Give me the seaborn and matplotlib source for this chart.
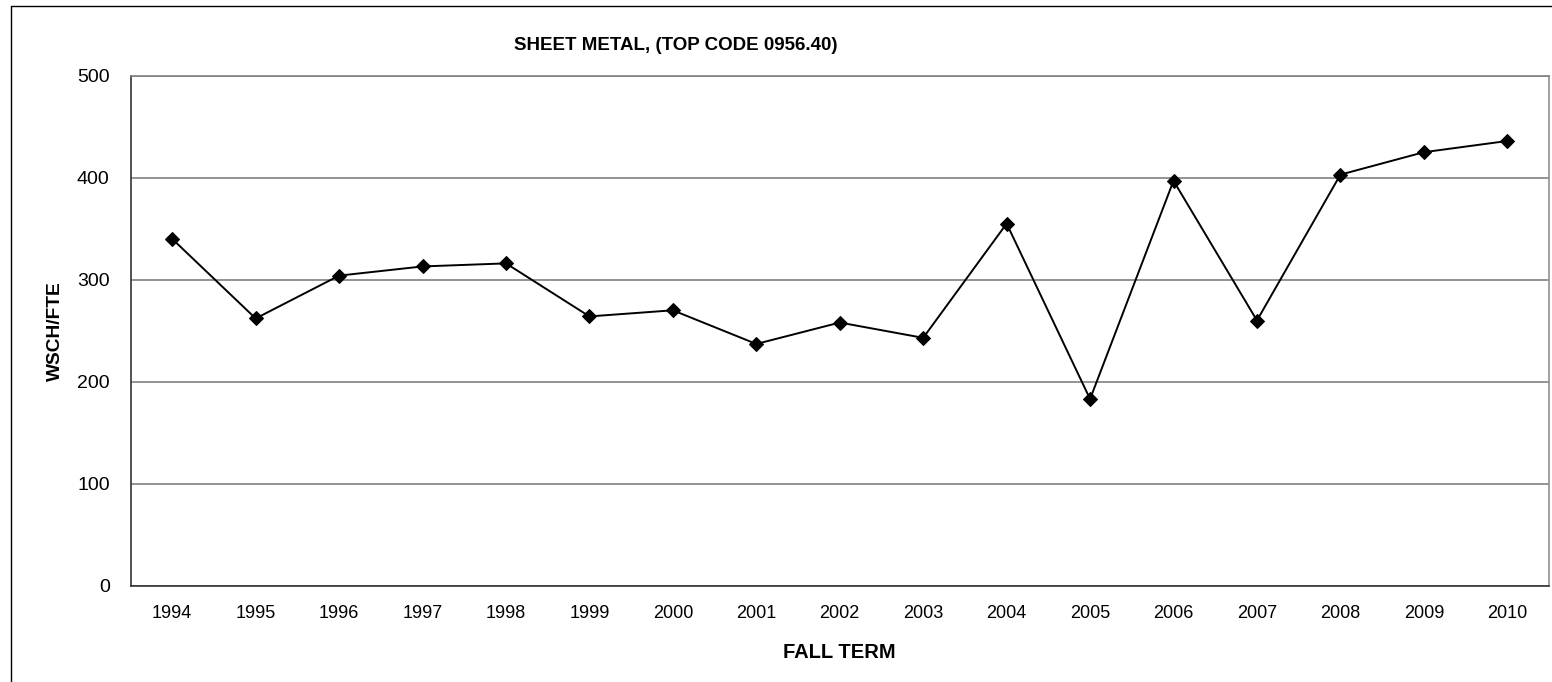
import numpy as np
import pandas as pd
import matplotlib
matplotlib.use("Agg")
import matplotlib.pyplot as plt
from matplotlib.lines import Line2D
import seaborn as sns

# -- Data ---------------------------------------------------------------------
years = ["1994", "1995", "1996", "1997", "1998", "1999", "2000", "2001", "2002",
         "2003", "2004", "2005", "2006", "2007", "2008", "2009", "2010"]
wsch_fte = [340, 262, 304, 313, 316, 264, 270, 237, 258,
            243, 355, 183, 397, 260, 403, 425, 436]
y_ticks = [0, 100, 200, 300, 400, 500]

df = pd.DataFrame({"pos": np.arange(len(years)), "year": years, "value": wsch_fte})

sns.set_theme(style="white")
plt.rcParams["font.family"] = ["Liberation Sans", "DejaVu Sans"]
plt.rcParams["text.color"] = "black"
plt.rcParams["axes.labelcolor"] = "black"
plt.rcParams["xtick.color"] = "black"
plt.rcParams["ytick.color"] = "black"

W, H = 1552, 682
fig = plt.figure(figsize=(W / 100, H / 100), dpi=100)
# plot area in pixels: left 130.5, right 1549, top 75.7, bottom 585.7
ax = fig.add_axes([130.5 / W, 1 - 585.7 / H, (1549 - 130.5) / W, (585.7 - 75.7) / H])

sns.lineplot(data=df, x="pos", y="value", ax=ax, color="black", linewidth=1.4,
             marker="D", markersize=7, markerfacecolor="black",
             markeredgecolor="black")

ax.set_xlim(-0.5, len(years) - 0.5)
ax.set_ylim(0, 500)
ax.set_yticks(y_ticks)
ax.set_yticklabels([str(t) for t in y_ticks], fontsize=14)
ax.yaxis.grid(True, color="#808080", linewidth=1.2)
ax.set_axisbelow(True)

ax.set_xticks(df["pos"])
ax.set_xticklabels(years, fontsize=13)
ax.set_xticks(np.arange(len(years) + 1) - 0.5, minor=True)
ax.tick_params(axis="x", which="major", length=0, pad=14)
ax.tick_params(axis="x", which="minor", length=5, width=1, color="#333333", direction="out")
ax.tick_params(axis="y", which="major", length=5, width=1, color="#333333", direction="out", pad=10)

for side in ["left", "bottom"]:
    ax.spines[side].set_color("#333333")
    ax.spines[side].set_linewidth(1.2)
ax.spines["right"].set_color("#909090")
ax.spines["right"].set_linewidth(1.2)
ax.spines["top"].set_color("#808080")
ax.spines["top"].set_linewidth(1.2)

ax.set_xlabel("FALL TERM", fontsize=14.5, fontweight="bold", labelpad=15)
ax.set_ylabel("WSCH/FTE", fontsize=13.8, fontweight="bold", labelpad=9)
fig.text(676 / W, 1 - 46 / H, "SHEET METAL, (TOP CODE 0956.40)", ha="center", va="center",
         fontsize=13.5, fontweight="bold")

# outer chart border (top and left edges visible)
fig.add_artist(Line2D([10.5 / W, 10.5 / W], [0, 1 - 5.5 / H], color="black", linewidth=1.0))
fig.add_artist(Line2D([10.5 / W, 1], [1 - 5.5 / H, 1 - 5.5 / H], color="black", linewidth=1.0))

fig.savefig("out.png", dpi=100)
plt.close(fig)
